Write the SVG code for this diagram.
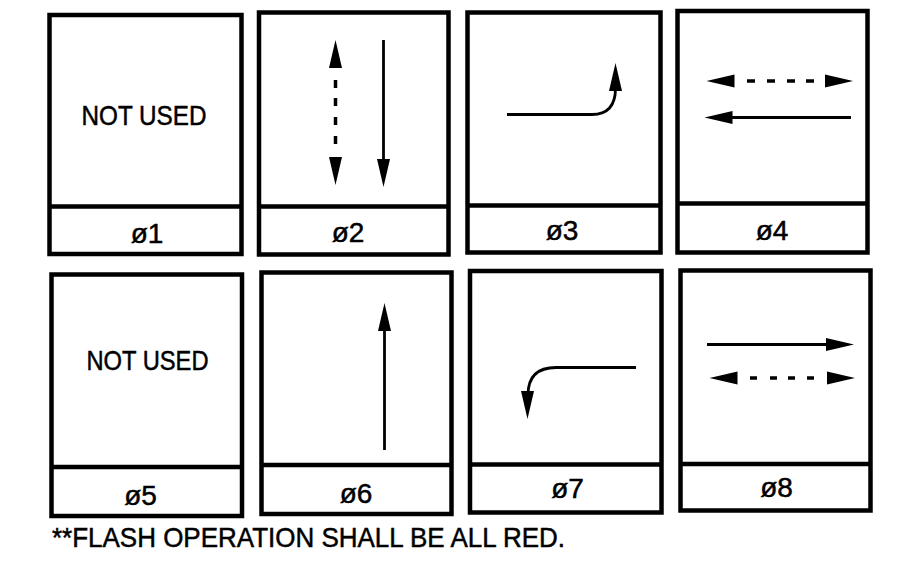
<svg xmlns="http://www.w3.org/2000/svg" xmlns:xlink="http://www.w3.org/1999/xlink" width="897" height="562" viewBox="0 0 897 562">
<style>
.box{fill:#fff;stroke:#000;stroke-width:4.5}
.div{stroke:#000;stroke-width:4.5}
.t{font-family:"Liberation Sans",Arial,sans-serif;font-size:28px;fill:#000;stroke:#000;stroke-width:0.5}
.lbl{text-anchor:middle}
.ln{fill:none;stroke:#000;stroke-width:2.8}
.dash{fill:none;stroke:#000;stroke-width:3.5}
.hd{fill:#000;stroke:none}
</style>
<defs>
<path id="ah" d="M0,0 L-28,-6.5 L-28,6.5 Z"/>
</defs>
<rect width="897" height="562" fill="#fff"/>

<g id="phase1">
<rect class="box" x="49.5" y="15" width="192" height="239"/>
<line class="div" x1="49.5" y1="206.5" x2="241.5" y2="206.5"/>
<text class="t lbl" x="144" y="125" textLength="125" lengthAdjust="spacingAndGlyphs">NOT USED</text>
<text class="t lbl" x="147" y="243">ø1</text>
</g>

<g id="phase2">
<rect class="box" x="259" y="12.5" width="189.5" height="242"/>
<line class="div" x1="259" y1="206.5" x2="448.5" y2="206.5"/>
<use class="hd" xlink:href="#ah" href="#ah" transform="translate(335.5,40) rotate(-90)"/>
<path class="dash" d="M335.5,80 V88 M335.5,98 V106 M335.5,117 V125 M335.5,136 V144"/>
<use class="hd" xlink:href="#ah" href="#ah" transform="translate(335.5,185) rotate(90)"/>
<line class="ln" x1="383.5" y1="40" x2="383.5" y2="162"/>
<use class="hd" xlink:href="#ah" href="#ah" transform="translate(383.5,187) rotate(90)"/>
<text class="t lbl" x="348" y="242">ø2</text>
</g>

<g id="phase3">
<rect class="box" x="467.5" y="12.5" width="193" height="240"/>
<line class="div" x1="467.5" y1="205.5" x2="660.5" y2="205.5"/>
<path class="ln" d="M507,114.5 H592 Q615.5,114.5 615.5,88"/>
<use class="hd" xlink:href="#ah" href="#ah" transform="translate(615.5,63) rotate(-90)"/>
<text class="t lbl" x="562" y="240">ø3</text>
</g>

<g id="phase4">
<rect class="box" x="677.5" y="11" width="190" height="241.5"/>
<line class="div" x1="677.5" y1="203.5" x2="867.5" y2="203.5"/>
<use class="hd" xlink:href="#ah" href="#ah" transform="translate(706.5,81) rotate(180)"/>
<path class="dash" d="M747,81 H755 M767,81 H775 M787,81 H795 M806,81 H814"/>
<use class="hd" xlink:href="#ah" href="#ah" transform="translate(853,81)"/>
<line class="ln" x1="730" y1="117.5" x2="851" y2="117.5"/>
<use class="hd" xlink:href="#ah" href="#ah" transform="translate(704.5,117.5) rotate(180)"/>
<text class="t lbl" x="772" y="240">ø4</text>
</g>

<g id="phase5">
<rect class="box" x="51.5" y="274.5" width="190.5" height="241.5"/>
<line class="div" x1="51.5" y1="467" x2="242" y2="467"/>
<text class="t lbl" x="147.5" y="370" textLength="122" lengthAdjust="spacingAndGlyphs">NOT USED</text>
<text class="t lbl" x="140.5" y="505">ø5</text>
</g>

<g id="phase6">
<rect class="box" x="261.5" y="272.5" width="190" height="241.5"/>
<line class="div" x1="261.5" y1="465" x2="451.5" y2="465"/>
<line class="ln" x1="384.5" y1="450" x2="384.5" y2="327"/>
<use class="hd" xlink:href="#ah" href="#ah" transform="translate(384.5,303) rotate(-90)"/>
<text class="t lbl" x="356" y="503">ø6</text>
</g>

<g id="phase7">
<rect class="box" x="470" y="271" width="191.5" height="241.5"/>
<line class="div" x1="470" y1="464.5" x2="661.5" y2="464.5"/>
<path class="ln" d="M636,367.5 H556 Q528,367.5 528,395"/>
<use class="hd" xlink:href="#ah" href="#ah" transform="translate(527.5,419) rotate(90)"/>
<text class="t lbl" x="567.5" y="498">ø7</text>
</g>

<g id="phase8">
<rect class="box" x="680.5" y="270.5" width="190" height="240"/>
<line class="div" x1="680.5" y1="464" x2="870.5" y2="464"/>
<line class="ln" x1="707" y1="344.5" x2="830" y2="344.5"/>
<use class="hd" xlink:href="#ah" href="#ah" transform="translate(854,344.5)"/>
<use class="hd" xlink:href="#ah" href="#ah" transform="translate(709.5,378) rotate(180)"/>
<path class="dash" d="M750,378 H757 M770,378 H777 M788,378 H795 M807,378 H814"/>
<use class="hd" xlink:href="#ah" href="#ah" transform="translate(855,378)"/>
<text class="t lbl" x="776.5" y="497">ø8</text>
</g>

<g id="connectors"></g>

<text id="note" class="t" x="52" y="547" textLength="513" lengthAdjust="spacingAndGlyphs">**FLASH OPERATION SHALL BE ALL RED.</text>
</svg>
